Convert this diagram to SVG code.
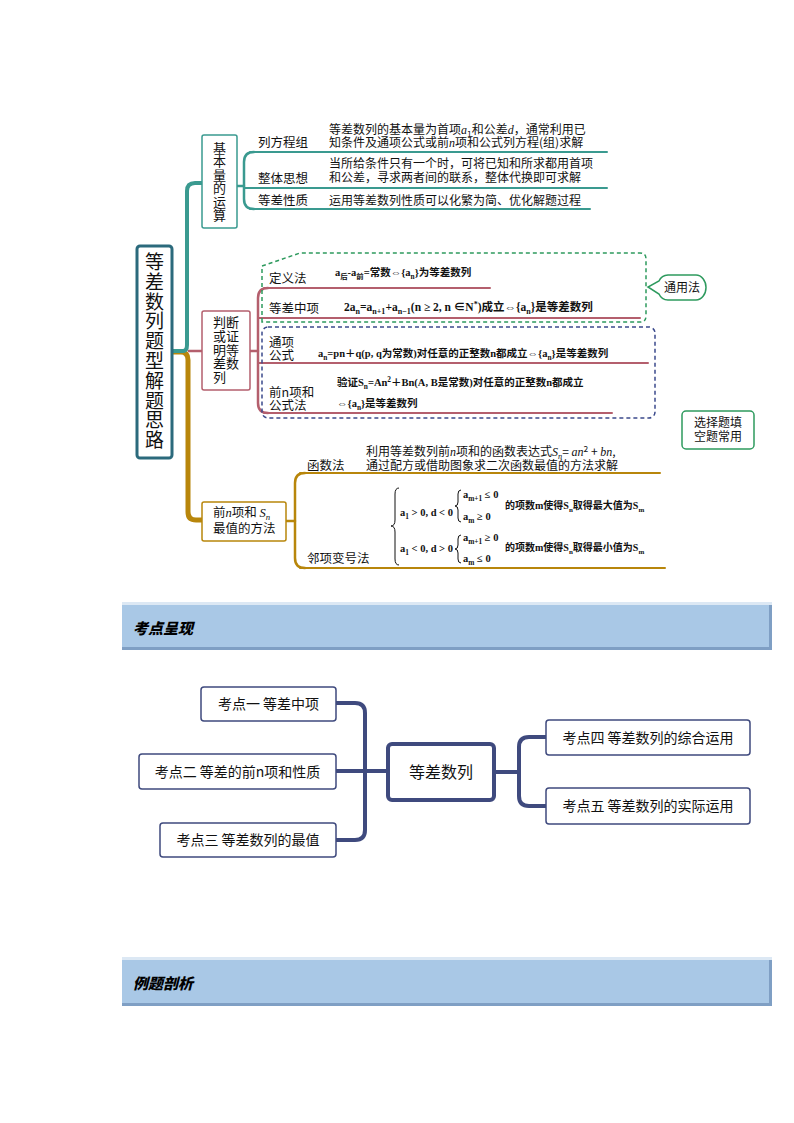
<svg xmlns="http://www.w3.org/2000/svg" width="794" height="1123" viewBox="0 0 794 1123">
<defs>
<style>
.cn{font-family:"Noto Sans CJK SC","Noto Sans",sans-serif;fill:#111;}
.fm{font-family:"Liberation Serif","Noto Sans CJK SC",serif;font-weight:bold;fill:#111;}
.s{font-size:70%;baseline-shift:-2.5px;}
.p{font-size:70%;baseline-shift:4px;}
.it{font-style:italic;font-family:"Liberation Serif",serif;}
.teal{stroke:#3a9a90;fill:none;stroke-linecap:round;}
.pink{stroke:#b45f6d;fill:none;stroke-linecap:round;}
.gold{stroke:#b8860b;fill:none;stroke-linecap:round;}
.navy{stroke:#3f4a7e;fill:none;stroke-linecap:round;stroke-linejoin:round;}
.box2{fill:#fff;stroke:#3f4a7e;stroke-width:1.5;}
.brace{stroke:#111;fill:none;stroke-width:1;}
.hdr{font-family:"Noto Sans CJK SC",sans-serif;font-weight:900;font-style:italic;font-size:15px;fill:#000;}
</style>
</defs>
<rect width="794" height="1123" fill="#fff"/>

<!-- connectors -->
<g id="connectors">
  <path class="gold" stroke-width="5" d="M172,352 H181 Q188,352 188,360 V512 Q188,520 196,520 H202"/>
  <path class="teal" stroke-width="4" d="M172,351 H183 Q187,351 187,345 V191 Q187,183 195,183 H202"/>
  <path class="pink" stroke-width="2.5" d="M189,351 H202"/>
  <path class="teal" stroke-width="2.5" d="M237,186 H244"/>
  <path class="teal" stroke-width="2.5" d="M254,152 Q244,152 244,162 V199 Q244,209 254,209"/>
  <path class="teal" stroke-width="2" d="M250,152 H607"/>
  <path class="teal" stroke-width="2" d="M244,188 H607"/>
  <path class="teal" stroke-width="2" d="M250,209 H590"/>
  <path class="pink" stroke-width="2.5" d="M250,351 H258"/>
  <path class="pink" stroke-width="2.5" d="M268,288 Q258,288 258,298 V403 Q258,413 268,413"/>
  <path class="pink" stroke-width="2" d="M264,288 H490"/>
  <path class="pink" stroke-width="2" d="M258,318 H640"/>
  <path class="pink" stroke-width="2" d="M258,363 H648"/>
  <path class="pink" stroke-width="2" d="M264,413 H612"/>
  <path class="gold" stroke-width="2.5" d="M286,521 H295"/>
  <path class="gold" stroke-width="2.5" d="M305,473 Q295,473 295,483 V558 Q295,568 305,568"/>
  <path class="gold" stroke-width="2" d="M300,473 H660"/>
  <path class="gold" stroke-width="2" d="M300,568 H665"/>
  <path class="navy" stroke-width="4" d="M336,703 H355 Q365,703 365,713 V830 Q365,840 355,840 H336"/>
  <path class="navy" stroke-width="4" d="M336,771 H388"/>
  <path class="navy" stroke-width="4" d="M494,772 H519"/>
  <path class="navy" stroke-width="4" d="M546,737 H529 Q519,737 519,747 V796 Q519,806 529,806 H546"/>
</g>

<g id="root">
  <rect x="137" y="246" width="35" height="212" rx="3" fill="#fff" stroke="#2b6a7c" stroke-width="3"/>
  <text class="cn" font-size="19" text-anchor="middle">
    <tspan x="154.5" y="269">等</tspan><tspan x="154.5" y="288.8">差</tspan><tspan x="154.5" y="308.6">数</tspan><tspan x="154.5" y="328.4">列</tspan><tspan x="154.5" y="348.2">题</tspan><tspan x="154.5" y="368">型</tspan><tspan x="154.5" y="387.8">解</tspan><tspan x="154.5" y="407.6">题</tspan><tspan x="154.5" y="427.4">思</tspan><tspan x="154.5" y="447.2">路</tspan>
  </text>
</g>

<g id="n-jbl">
  <rect x="202" y="135" width="35" height="93" rx="2" fill="#fff" stroke="#3a9a90" stroke-width="1.5"/>
  <text class="cn" font-size="13" text-anchor="middle">
    <tspan x="219.5" y="152.5">基</tspan><tspan x="219.5" y="166">本</tspan><tspan x="219.5" y="179.5">量</tspan><tspan x="219.5" y="193">的</tspan><tspan x="219.5" y="206.5">运</tspan><tspan x="219.5" y="220">算</tspan>
  </text>
</g>

<g id="n-lfc">
  <text class="cn" font-size="12.5" x="258" y="147">列方程组</text>
  <text class="cn" font-size="12" x="329" y="133.5">等差数列的基本量为首项<tspan class="it">a</tspan><tspan class="s">1</tspan>和公差<tspan class="it">d</tspan>，通常利用已</text>
  <text class="cn" font-size="12" x="329" y="147">知条件及通项公式或前<tspan class="it">n</tspan>项和公式列方程(组)求解</text>
</g>
<g id="n-ztsx">
  <text class="cn" font-size="12.5" x="258" y="183">整体思想</text>
  <text class="cn" font-size="12" x="329" y="168">当所给条件只有一个时，可将已知和所求都用首项</text>
  <text class="cn" font-size="12" x="329" y="182">和公差，寻求两者间的联系，整体代换即可求解</text>
</g>
<g id="n-dcxz">
  <text class="cn" font-size="12.5" x="258" y="205">等差性质</text>
  <text class="cn" font-size="12" x="329" y="205">运用等差数列性质可以化繁为简、优化解题过程</text>
</g>

<g id="n-pd">
  <rect x="202" y="311" width="48" height="79" rx="2" fill="#fff" stroke="#b45f6d" stroke-width="1.5"/>
  <text class="cn" font-size="13">
    <tspan x="213" y="326.5">判断</tspan><tspan x="213" y="340.5">或证</tspan><tspan x="213" y="354.5">明等</tspan><tspan x="213" y="368">差数</tspan><tspan x="213" y="381.5">列</tspan>
  </text>
</g>
<g id="g-callout">
  <path d="M262,322 V266 L300,253 H640 Q646,253 646,259 V316 Q646,322 640,322 Z" fill="none" stroke="#2e9a5e" stroke-width="1.5" stroke-dasharray="4 3"/>
  <rect x="262" y="327" width="393" height="91" rx="6" fill="none" stroke="#3b4a8c" stroke-width="1.5" stroke-dasharray="4 3"/>
</g>
<g id="n-tyf">
  <path d="M668,275 H696 A10,12.5 0 0 1 696,300 H668 A10,10 0 0 1 659,294 L648,287 L659,281 A10,10 0 0 1 668,275 Z" fill="#fff" stroke="#2e9a5e" stroke-width="1.5"/>
  <text class="cn" font-size="12" x="682" y="292" text-anchor="middle">通用法</text>
</g>
<g id="n-xz">
  <rect x="682" y="411" width="72" height="38" rx="4" fill="#fff" stroke="#2e9a5e" stroke-width="1.5"/>
  <text class="cn" font-size="12" text-anchor="middle"><tspan x="718" y="427">选择题填</tspan><tspan x="718" y="441">空题常用</tspan></text>
</g>
<g id="n-dyf">
  <text class="cn" font-size="12.5" x="269" y="283">定义法</text>
  <text class="fm" font-size="10.5" x="335" y="276">a<tspan class="s">后</tspan>-a<tspan class="s">前</tspan>=常数⇔{a<tspan class="s">n</tspan>}为等差数列</text>
</g>
<g id="n-dczx">
  <text class="cn" font-size="12.5" x="269" y="313">等差中项</text>
  <text class="fm" font-size="11.5" x="344" y="311">2a<tspan class="s">n</tspan>=a<tspan class="s">n+1</tspan>+a<tspan class="s">n−1</tspan>(n ≥ 2,  n ∈N<tspan class="p">*</tspan>)成立⇔{a<tspan class="s">n</tspan>}是等差数列</text>
</g>
<g id="n-txgs">
  <text class="cn" font-size="12.5"><tspan x="269" y="347">通项</tspan><tspan x="269" y="360">公式</tspan></text>
  <text class="fm" font-size="10.5" x="318" y="357">a<tspan class="s">n</tspan>=pn＋q(p,  q为常数)对任意的正整数n都成立⇔{a<tspan class="s">n</tspan>}是等差数列</text>
</g>
<g id="n-qnx">
  <text class="cn" font-size="12.5"><tspan x="269" y="397">前n项和</tspan><tspan x="269" y="410">公式法</tspan></text>
  <text class="fm" font-size="10.5" x="337" y="386">验证S<tspan class="s">n</tspan>=An<tspan class="p">2</tspan>＋Bn(A,  B是常数)对任意的正整数n都成立</text>
  <text class="fm" font-size="10.5" x="337" y="407">⇔{a<tspan class="s">n</tspan>}是等差数列</text>
</g>

<g id="n-zz">
  <rect x="202" y="502" width="84" height="39" rx="2" fill="#fff" stroke="#b8860b" stroke-width="1.5"/>
  <text class="cn" font-size="12.5"><tspan x="213" y="517">前<tspan class="it">n</tspan>项和 <tspan class="it">S</tspan><tspan class="s it">n</tspan></tspan><tspan x="213" y="533">最值的方法</tspan></text>
</g>
<g id="n-hsf">
  <text class="cn" font-size="12.5" x="307" y="470">函数法</text>
  <text class="cn" font-size="12" x="366" y="456">利用等差数列前<tspan class="it">n</tspan>项和的函数表达式<tspan class="it">S</tspan><tspan class="s it">n</tspan>= <tspan class="it">an</tspan><tspan class="p">2</tspan> + <tspan class="it">bn</tspan>,</text>
  <text class="cn" font-size="12" x="366" y="470">通过配方或借助图象求二次函数最值的方法求解</text>
</g>
<g id="n-lxbh">
  <text class="cn" font-size="12.5" x="307" y="563">邻项变号法</text>
  <path class="brace" d="M399,488 Q395,488 395,494 V520 Q395,526 391,526 Q395,526 395,532 V559 Q395,565 399,565"/>
  <text class="fm" font-size="10.5" x="400" y="516">a<tspan class="s">1</tspan> &gt; 0,  d &lt; 0</text>
  <path class="brace" d="M461,490 Q458,490 458,494 V502 Q458,506 455,506 Q458,506 458,510 V518 Q458,522 461,522"/>
  <text class="fm" font-size="10.5" x="463" y="498">a<tspan class="s">m+1</tspan> ≤ 0</text>
  <text class="fm" font-size="10.5" x="463" y="520">a<tspan class="s">m</tspan> ≥ 0</text>
  <text class="fm" font-size="10" x="505" y="509">的项数m使得S<tspan class="s">n</tspan>取得最大值为S<tspan class="s">m</tspan></text>
  <text class="fm" font-size="10.5" x="400" y="552">a<tspan class="s">1</tspan> &lt; 0,  d &gt; 0</text>
  <path class="brace" d="M461,535 Q458,535 458,539 V545 Q458,549 455,549 Q458,549 458,553 V559 Q458,563 461,563"/>
  <text class="fm" font-size="10.5" x="463" y="541">a<tspan class="s">m+1</tspan> ≥ 0</text>
  <text class="fm" font-size="10.5" x="463" y="562">a<tspan class="s">m</tspan> ≤ 0</text>
  <text class="fm" font-size="10" x="505" y="551">的项数m使得S<tspan class="s">n</tspan>取得最小值为S<tspan class="s">m</tspan></text>
</g>

<g id="hdr1">
  <rect x="122" y="602" width="650" height="3" fill="#dce8f4"/>
  <rect x="122" y="605" width="650" height="45" fill="#7f9fc4"/>
  <rect x="122" y="605" width="647" height="42" fill="#a9c8e6"/>
  <text class="hdr" x="133" y="634">考点呈现</text>
</g>

<g id="n-center">
  <rect x="388" y="744" width="106" height="56" rx="4" fill="#fff" stroke="#3f4a7e" stroke-width="4"/>
  <text class="cn" font-size="16" x="441" y="778" text-anchor="middle">等差数列</text>
</g>
<g id="n-k1">
  <rect class="box2" x="201" y="687" width="135" height="34" rx="3"/>
  <text class="cn" font-size="14" x="268.5" y="709" text-anchor="middle">考点一 等差中项</text>
</g>
<g id="n-k2">
  <rect class="box2" x="139" y="754" width="197" height="35" rx="3"/>
  <text class="cn" font-size="14" x="237.5" y="776.5" text-anchor="middle">考点二 等差的前n项和性质</text>
</g>
<g id="n-k3">
  <rect class="box2" x="160" y="823" width="176" height="34" rx="3"/>
  <text class="cn" font-size="14" x="248" y="845" text-anchor="middle">考点三 等差数列的最值</text>
</g>
<g id="n-k4">
  <rect class="box2" x="546" y="720" width="204" height="35" rx="3"/>
  <text class="cn" font-size="14" x="648" y="742.5" text-anchor="middle">考点四 等差数列的综合运用</text>
</g>
<g id="n-k5">
  <rect class="box2" x="546" y="788" width="204" height="36" rx="3"/>
  <text class="cn" font-size="14" x="648" y="811" text-anchor="middle">考点五 等差数列的实际运用</text>
</g>

<g id="hdr2">
  <rect x="122" y="957" width="650" height="3" fill="#dce8f4"/>
  <rect x="122" y="960" width="650" height="46" fill="#7f9fc4"/>
  <rect x="122" y="960" width="647" height="43" fill="#a9c8e6"/>
  <text class="hdr" x="133" y="989">例题剖析</text>
</g>
</svg>
